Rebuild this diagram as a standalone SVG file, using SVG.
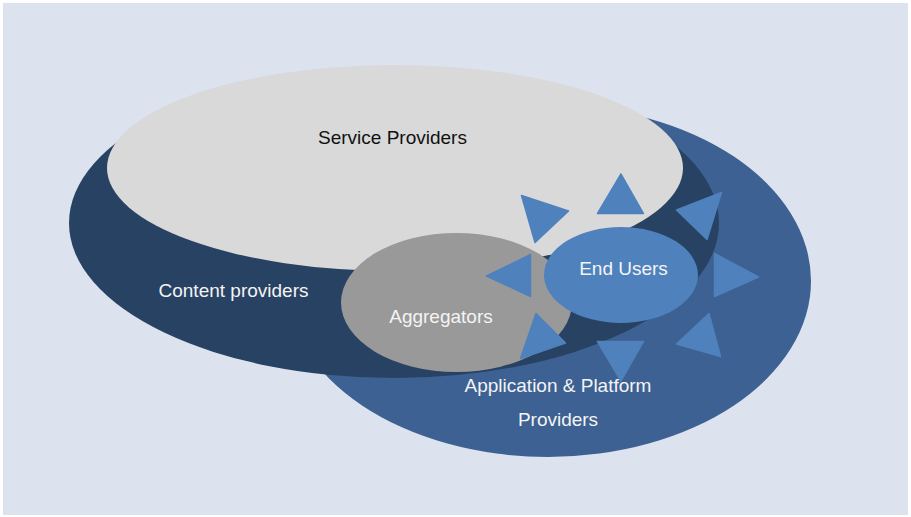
<svg xmlns="http://www.w3.org/2000/svg" width="911" height="517" viewBox="0 0 911 517">
<style>
.lbl{font-family:"Liberation Sans",Arial,sans-serif;font-size:19px;text-anchor:middle;fill:#f4f4f4}
.dark{fill:#111111}
.tri{fill:#4f81bd;stroke:#4f81bd;stroke-width:1.5;stroke-linejoin:round}
</style>
<rect x="3" y="3" width="905" height="512" fill="#dce3ee"/>
<g id="app-platform-providers">
<ellipse cx="548" cy="281" rx="263" ry="176" fill="#3c6192"/>
</g>
<g id="content-providers">
<ellipse cx="394" cy="223" rx="325" ry="155" fill="#284263"/>
</g>
<g id="service-providers">
<ellipse cx="395" cy="168" rx="288" ry="103" fill="#d9d9d9"/>
<text class="lbl dark" x="392.5" y="144">Service Providers</text>
</g>
<g id="aggregators">
<ellipse cx="456.5" cy="302.5" rx="115.5" ry="69.5" fill="#999999"/>
<text class="lbl" x="441" y="323">Aggregators</text>
</g>
<g id="end-users">
<ellipse cx="621" cy="275" rx="77" ry="48" fill="#4f81bd"/>
<text class="lbl" x="623.5" y="275">End Users</text>
</g>
<g id="connectors">
<polygon class="tri" points="621,174 597.5,213.5 643.5,213.5"/>
<polygon class="tri" points="521.5,195.5 568.5,211 535,242.5"/>
<polygon class="tri" points="486.5,276 530.5,254.5 530.5,296.5"/>
<polygon class="tri" points="536,313.5 565.5,343 520.5,358.5"/>
<polygon class="tri" points="597.5,341.5 643.5,341.5 621,381"/>
<polygon class="tri" points="709,313.5 720.5,356.5 676.5,344"/>
<polygon class="tri" points="714.5,253.5 758.5,277 714.5,296.5"/>
<polygon class="tri" points="721.5,192.5 707,239.5 676.5,210"/>
</g>
<text class="lbl" x="233.5" y="297">Content providers</text>
<text class="lbl" x="558" y="392">Application &amp; Platform</text>
<text class="lbl" x="558" y="426">Providers</text>
</svg>
